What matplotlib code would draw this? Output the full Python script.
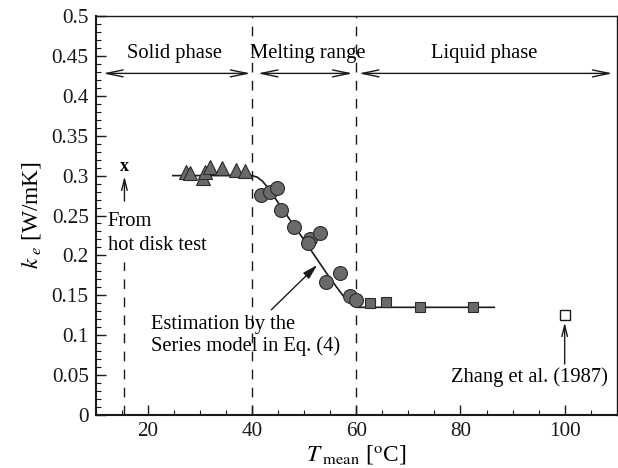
import matplotlib
matplotlib.use("Agg")
import matplotlib.pyplot as plt
from matplotlib.ticker import MultipleLocator, FuncFormatter

# ---- data ----
T_solid = [27.4, 28.1, 30.5, 30.9, 31.9, 34.2, 37.0, 38.6]
k_solid = [0.305, 0.303, 0.297, 0.305, 0.311, 0.310, 0.307, 0.306]

T_melt = [41.8, 43.4, 44.7, 45.6, 48.0, 51.1, 50.8, 53.0, 54.2, 56.8, 58.8, 59.9]
k_melt = [0.276, 0.280, 0.285, 0.257, 0.236, 0.221, 0.215, 0.228, 0.167, 0.178, 0.149, 0.144]

T_liquid = [62.7, 65.8, 72.3, 82.4]
k_liquid = [0.141, 0.142, 0.136, 0.136]

T_zhang = [100.0]
k_zhang = [0.126]

T_hotdisk = 15.5
k_hotdisk = 0.312

T_model = [24.8, 40.0, 41.0, 42.0, 43.0, 44.0, 45.0, 50.0, 55.0, 58.0, 59.0, 60.0, 86.5]
k_model = [0.300, 0.300, 0.298, 0.293, 0.285, 0.276, 0.266, 0.219, 0.171, 0.145, 0.139, 0.135, 0.135]

phase_bounds = [40, 60]
phase_labels = ["Solid phase", "Melting range", "Liquid phase"]

x_major = [20, 40, 60, 80, 100]

# ---- style ----
plt.rcParams['font.family'] = ['Liberation Serif', 'DejaVu Serif']
plt.rcParams['mathtext.fontset'] = 'stix'
fs = 14.8

fig = plt.figure(figsize=(6.18, 4.68), dpi=100)
ax = fig.add_axes([0.155, 0.113, 0.843, 0.853])

grey = '#6a6a6a'
edge = '#2a2a2a'

ax.plot(T_model, k_model, color='#1a1a1a', lw=1.2, zorder=2)
ax.plot(T_solid, k_solid, linestyle='none', marker='^', ms=9.5, mfc=grey, mec=edge, mew=0.8, zorder=3)
ax.plot(T_melt, k_melt, linestyle='none', marker='o', ms=10, mfc=grey, mec=edge, mew=0.8, zorder=3)
ax.plot(T_liquid, k_liquid, linestyle='none', marker='s', ms=7.5, mfc=grey, mec=edge, mew=0.8, zorder=3)
ax.plot(T_zhang, k_zhang, linestyle='none', marker='s', ms=7, mfc='white', mec='#1a1a1a', mew=1.0, zorder=3)

# vertical dashed lines
for b in phase_bounds:
    ax.axvline(b, color='#1a1a1a', lw=1.0, ls=(0, (7, 6)), zorder=1)
ax.plot([T_hotdisk, T_hotdisk], [0, 0.192], color='#1a1a1a', lw=1.0, ls=(0, (7, 6)))

# phase arrows
arrow_y = 0.428
spans = [(11.4, 39.7), (41.1, 59.3), (60.5, 109.2)]
label_x = [25.2, 50.7, 84.6]
for (a, b), lx, lab in zip(spans, label_x, phase_labels):
    ax.annotate('', xy=(b, arrow_y), xytext=(a, arrow_y),
                arrowprops=dict(arrowstyle='<->,head_length=1.2,head_width=0.25',
                                color='#1a1a1a', lw=1.0, shrinkA=0, shrinkB=0))
    ax.text(lx, 0.453, lab, ha='center', va='center', fontsize=fs)

# hot disk
ax.text(T_hotdisk, k_hotdisk, 'x', ha='center', va='center', fontsize=13, fontweight='bold')
ax.annotate('', xy=(T_hotdisk, 0.299), xytext=(T_hotdisk, 0.268),
            arrowprops=dict(arrowstyle='->,head_length=0.8,head_width=0.2',
                            color='#1a1a1a', lw=1.0, shrinkA=0, shrinkB=0))
ax.text(12.3, 0.242, 'From', ha='left', va='center', fontsize=fs)
ax.text(12.3, 0.213, 'hot disk test', ha='left', va='center', fontsize=fs)

# estimation annotation
ax.annotate('', xy=(52.5, 0.188), xytext=(43.7, 0.132),
            arrowprops=dict(arrowstyle='-|>,head_length=0.9,head_width=0.25',
                            color='#1a1a1a', lw=1.0, shrinkA=0, shrinkB=0))
ax.text(20.6, 0.113, 'Estimation by the', ha='left', va='center', fontsize=fs)
ax.text(20.6, 0.086, 'Series model in Eq. (4)', ha='left', va='center', fontsize=fs)

# Zhang annotation
ax.annotate('', xy=(100, 0.116), xytext=(100, 0.064),
            arrowprops=dict(arrowstyle='->,head_length=0.8,head_width=0.2',
                            color='#1a1a1a', lw=1.0, shrinkA=0, shrinkB=0))
ax.text(108.3, 0.048, 'Zhang et al. (1987)', ha='right', va='center', fontsize=fs)

# axes
ax.set_xlim(10, 110)
ax.set_ylim(0, 0.5)
ax.set_xticks(x_major)
ax.xaxis.set_minor_locator(MultipleLocator(5))
ax.yaxis.set_major_locator(MultipleLocator(0.05))
ax.yaxis.set_minor_locator(MultipleLocator(0.01))
ax.yaxis.set_major_formatter(FuncFormatter(lambda v, p: ('%.2f' % v).rstrip('0').rstrip('.') if v != 0 else '0'))
ax.tick_params(which='both', direction='in', top=False, right=False, labelsize=fs + 0.5, colors='#1a1a1a')
ax.tick_params(which='major', length=7, width=1.0, pad=5)
ax.tick_params(which='minor', length=3.5, width=0.8)
for s in ax.spines.values():
    s.set_linewidth(1.0)
    s.set_color('#1a1a1a')
ax.spines['left'].set_linewidth(1.5)
ax.spines['bottom'].set_linewidth(1.5)

ax.set_ylabel(r'$k_{\ e}$ [W/mK]', fontsize=fs + 2, labelpad=6)
ax.set_xlabel(r'$T_{\rm\ mean}$ [$^{\rm o}$C]', fontsize=fs + 2, labelpad=1.5)

fig.savefig('out.png', dpi=100)
